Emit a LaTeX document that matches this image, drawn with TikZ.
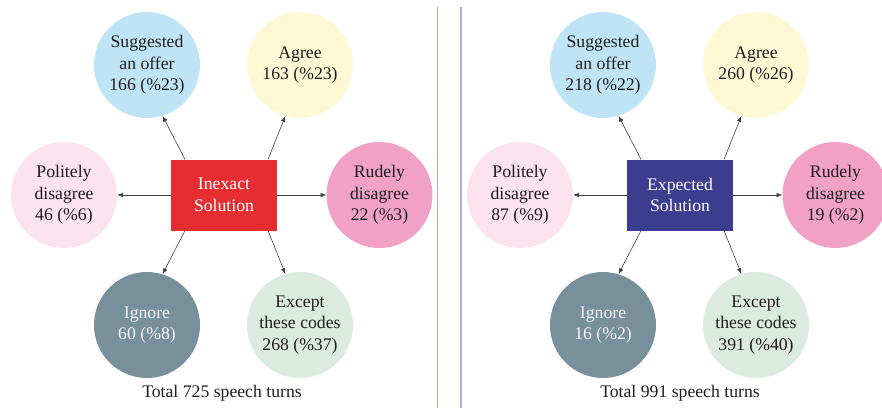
\documentclass[tikz,border=0pt]{standalone}
\usepackage{fontspec}
\setmainfont{Liberation Serif}
\usetikzlibrary{arrows.meta}
\definecolor{cblue}{HTML}{BFE4F6}
\definecolor{cyellow}{HTML}{FFF8D4}
\definecolor{cpinkl}{HTML}{FCE3EE}
\definecolor{cpink}{HTML}{F0A1C5}
\definecolor{cgray}{HTML}{788F9C}
\definecolor{cgreen}{HTML}{DCEBDF}
\definecolor{cred}{HTML}{E52D32}
\definecolor{cnavy}{HTML}{3B3D8F}
\definecolor{cdiv}{HTML}{ABABDA}
\definecolor{ctext}{HTML}{1E1E1E}
\begin{document}
\begin{tikzpicture}[x=1pt,y=-1pt,
  font=\fontsize{17.7}{21.7}\selectfont,
  bubble/.style={circle,minimum size=106pt,inner sep=0pt,outer sep=0pt,align=center,text=ctext},
  centerbox/.style={rectangle,minimum width=106pt,minimum height=71pt,inner sep=0pt,outer sep=0pt,align=center,text=white},
  link/.style={draw=black!75,line width=0.6pt,-{Latex[length=6pt,width=4.5pt]}},
  divider/.style={draw=cdiv,line width=1.4pt},
  caption/.style={text=ctext}]
\useasboundingbox (0,0) rectangle (882,408);
% dividers
\coordinate (d1t) at (437.7,7);
\coordinate (d1b) at (437.7,408);
\coordinate (d2t) at (461,7);
\coordinate (d2b) at (461,408);
\draw[divider] (d1t) -- (d1b);
\draw[divider] (d2t) -- (d2b);
% left panel
\node[centerbox,fill=cred] (lr) at (224,195) {Inexact\\Solution};
\node[bubble,fill=cblue] (lsug) at (147,65) {Suggested\\an offer\\166 (\%23)};
\node[bubble,fill=cyellow] (lagr) at (300,65) {Agree\\163 (\%23)};
\node[bubble,fill=cpinkl] (lpol) at (64,195) {Politely\\disagree\\46 (\%6)};
\node[bubble,fill=cpink] (lrud) at (379.5,195) {Rudely\\disagree\\22 (\%3)};
\node[bubble,fill=cgray,text=white!92!cgray] (lign) at (147,325) {Ignore\\60 (\%8)};
\node[bubble,fill=cgreen] (lexc) at (300,325) {Except\\these codes\\268 (\%37)};
\node[caption] (lcap) at (222,393) {Total 725 speech turns};
\draw[link] ([xshift=-39pt]lr.north) -- (lsug.-73);
\draw[link] ([xshift=44pt]lr.north) -- (lagr.-106);
\draw[link] (lr.west) -- (lpol.east);
\draw[link] (lr.east) -- (lrud.west);
\draw[link] ([xshift=-39pt]lr.south) -- (lign.73);
\draw[link] ([xshift=44pt]lr.south) -- (lexc.106);
% right panel
\node[centerbox,fill=cnavy] (rr) at (680,195) {Expected\\Solution};
\node[bubble,fill=cblue] (rsug) at (603,65) {Suggested\\an offer\\218 (\%22)};
\node[bubble,fill=cyellow] (ragr) at (756,65) {Agree\\260 (\%26)};
\node[bubble,fill=cpinkl] (rpol) at (520,195) {Politely\\disagree\\87 (\%9)};
\node[bubble,fill=cpink] (rrud) at (835.5,195) {Rudely\\disagree\\19 (\%2)};
\node[bubble,fill=cgray,text=white!92!cgray] (rign) at (603,325) {Ignore\\16 (\%2)};
\node[bubble,fill=cgreen] (rexc) at (756,325) {Except\\these codes\\391 (\%40)};
\node[caption] (rcap) at (680,393) {Total 991 speech turns};
\draw[link] ([xshift=-39pt]rr.north) -- (rsug.-73);
\draw[link] ([xshift=44pt]rr.north) -- (ragr.-106);
\draw[link] (rr.west) -- (rpol.east);
\draw[link] (rr.east) -- (rrud.west);
\draw[link] ([xshift=-39pt]rr.south) -- (rign.73);
\draw[link] ([xshift=44pt]rr.south) -- (rexc.106);
\end{tikzpicture}
\end{document}
